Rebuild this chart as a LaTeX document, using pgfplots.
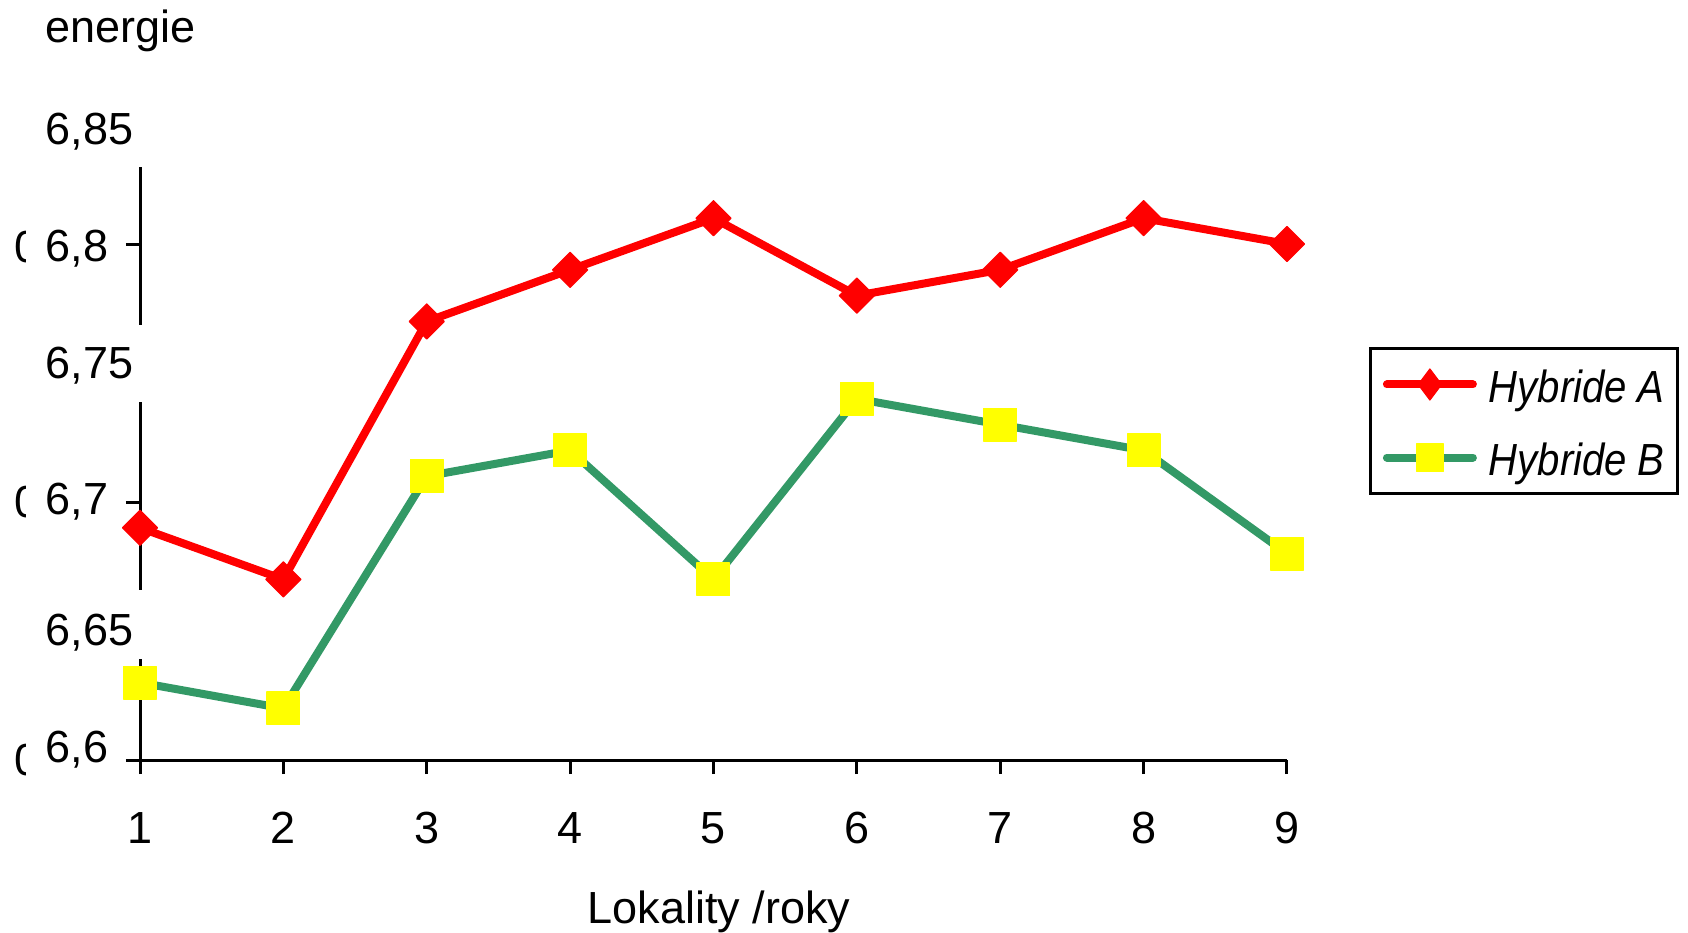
\documentclass[border=0pt]{standalone}
\usepackage{fontspec}
\setmainfont{Liberation Sans}
\newfontfamily\legfont{Liberation Sans}[FakeStretch=0.89]
\usepackage{pgfplots}
\usepackage{pgfplotstable}
\pgfplotsset{compat=1.18}

\definecolor{hybA}{RGB}{255,0,0}
\definecolor{hybB}{RGB}{51,153,102}
\definecolor{hybBmark}{RGB}{255,255,0}
\newcommand\fs{\fontsize{11.25}{13.5}\selectfont}

% energy per location / year
\pgfplotstableread{
x  A     B
1  6.69  6.63
2  6.67  6.62
3  6.77  6.71
4  6.79  6.72
5  6.81  6.67
6  6.78  6.74
7  6.79  6.73
8  6.81  6.72
9  6.80  6.68
}\energydata

\begin{document}
\begin{tikzpicture}[font=\fs]
\useasboundingbox (0,0) rectangle (422pt,233pt);
\begin{axis}[
  at={(35pt,43pt)}, anchor=south west,
  scale only axis, width=286.75pt, height=148.35pt,
  xmin=1, xmax=9, ymin=6.6, ymax=6.83,
  axis lines*=left,
  axis line style={line width=0.75pt, black},
  xtick={1,...,9}, ytick={6.6,6.7,6.8},
  yticklabels={},
  tick align=outside, major tick length=3.5pt,
  tick style={line width=0.75pt, black},
  xticklabel style={anchor=base, yshift=-17.25pt, font=\fs},
  /pgf/number format/assume math mode=true,
  clip=false,
  legend cell align=left,
  legend style={
    at={(1.0715,0.696)}, anchor=north west,
    draw=black, line width=0.75pt, fill=white,
    inner xsep=3.1pt, inner ysep=2pt,
    row sep=4.25pt, column sep=3pt,
    nodes={inner sep=0pt, text height=11.5pt, text depth=2.5pt},
    font=\legfont\itshape\fontsize{11.25}{13.5}\selectfont,
  },
]
\addplot[hybA, line width=2pt, line join=round,
  mark=square*, mark size=3.1pt,
  mark options={rotate=45, fill=hybA, draw=hybA, line width=0.3pt},
  legend image code/.code={
    \draw[hybA, line width=2pt, line cap=round, mark=diamond*, mark size=3.875pt,
      mark options={fill=hybA, draw=hybA, line width=0.3pt},
      mark repeat=2, mark phase=2]
      plot coordinates {(0pt,0pt) (10.75pt,0pt) (21.5pt,0pt)};
  }] table[x=x, y=A] {\energydata};
\addlegendentry{Hybride A\hspace{3.8pt}}
\addplot[hybB, line width=2pt, line join=round,
  mark=square*, mark size=4.1pt,
  mark options={fill=hybBmark, draw=hybBmark, line width=0.3pt},
  legend image code/.code={
    \draw[hybB, line width=2pt, line cap=round, mark=square*, mark size=3.4pt,
      mark options={fill=hybBmark, draw=hybBmark, line width=0.3pt},
      mark repeat=2, mark phase=2]
      plot coordinates {(0pt,0pt) (10.75pt,0pt) (21.5pt,0pt)};
  }] table[x=x, y=B] {\energydata};
\addlegendentry{Hybride B\hspace{3.8pt}}
\end{axis}

% label boxes breaking the value axis
\fill[white] (33.5pt,132.5pt) rectangle (36.5pt,151.75pt);
\fill[white] (33.5pt,68.25pt) rectangle (36.5pt,85.5pt);

% value labels
\node[anchor=base west, inner sep=0pt] at (11.25pt,222.25pt) {energie};
\node[anchor=base west, inner sep=0pt] at (11.25pt,196.75pt) {6,85};
\node[anchor=base west, inner sep=0pt] at (11.25pt,167.5pt) {6,8};
\node[anchor=base west, inner sep=0pt] at (11.25pt,138.25pt) {6,75};
\node[anchor=base west, inner sep=0pt] at (11.25pt,104.5pt) {6,7};
\node[anchor=base west, inner sep=0pt] at (11.25pt,71.75pt) {6,65};
\node[anchor=base west, inner sep=0pt] at (11.25pt,42.5pt) {6,6};

% partly hidden labels at the left edge
\begin{scope}
  \clip (0pt,0pt) rectangle (6.4pt,233pt);
  \node[anchor=base west, inner sep=0pt] at (3.4pt,167.25pt) {0};
  \node[anchor=base west, inner sep=0pt] at (3.4pt,103.5pt) {0};
  \node[anchor=base west, inner sep=0pt] at (3.4pt,39.25pt) {0};
\end{scope}

\node[anchor=base, inner sep=0pt] at (179.75pt,2.25pt) {Lokality /roky};
\end{tikzpicture}
\end{document}
